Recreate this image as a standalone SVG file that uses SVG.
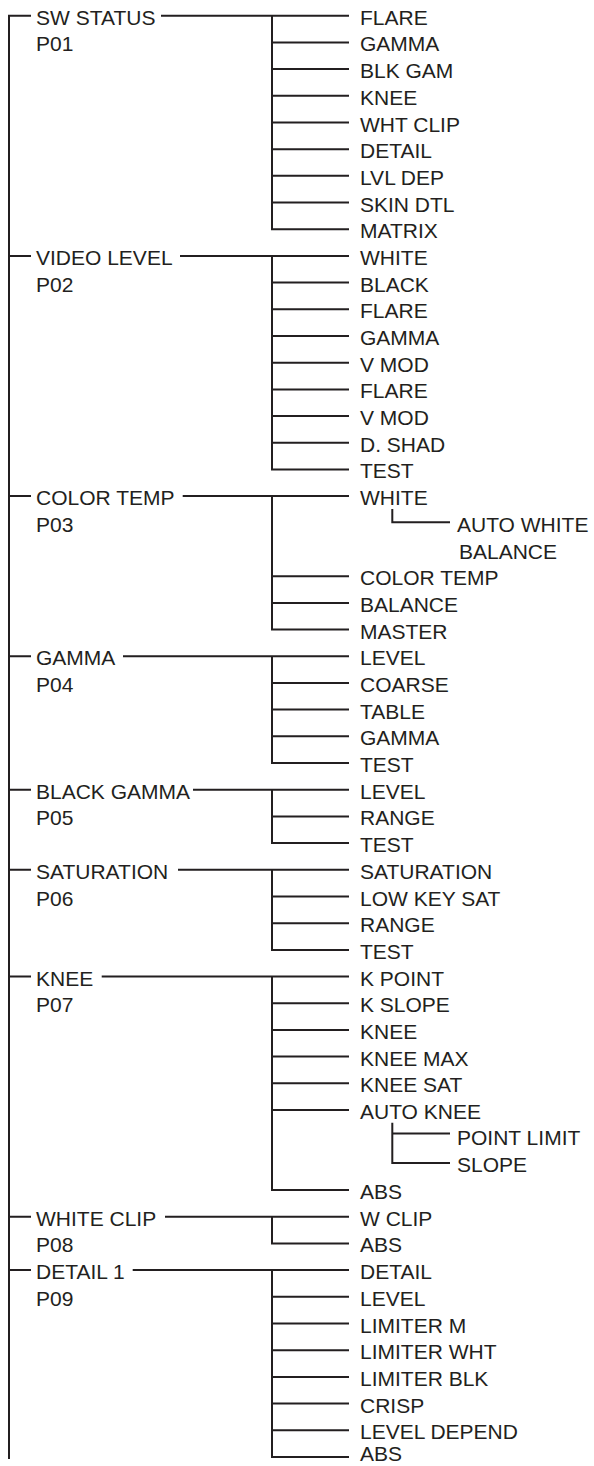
<svg xmlns="http://www.w3.org/2000/svg" width="594" height="1466" viewBox="0 0 594 1466">
<style>
text{font-family:"Liberation Sans",Arial,Helvetica,sans-serif;font-size:21px;fill:#231f20}
.c path{fill:none;stroke:#231f20;stroke-width:2}
</style>
<rect width="594" height="1466" fill="#fff"/>
<g class="c" id="connectors">
<path d="M31,15.7 H9 V1459"/>
<path d="M9,255.9 H31 M9,496.1 H31 M9,656.3 H31 M9,789.7 H31 M9,869.8 H31 M9,976.5 H31 M9,1216.8 H31 M9,1270.1 H31"/>
<!-- group 1 -->
<path d="M161,15.7 H349 M272,15.7 V229.2 H349 M272,42.4 H349 M272,69.1 H349 M272,95.8 H349 M272,122.5 H349 M272,149.2 H349 M272,175.8 H349 M272,202.5 H349"/>
<!-- group 2 -->
<path d="M180,255.9 H349 M272,255.9 V469.4 H349 M272,282.6 H349 M272,309.3 H349 M272,336 H349 M272,362.7 H349 M272,389.4 H349 M272,416.1 H349 M272,442.7 H349"/>
<!-- group 3 -->
<path d="M182.7,496.1 H349 M272,496.1 V629.6 H349 M272,576.2 H349 M272,602.9 H349"/>
<path d="M392.3,509 V522.3 H450"/>
<!-- group 4 -->
<path d="M123,656.3 H349 M272,656.3 V763 H349 M272,683 H349 M272,709.6 H349 M272,736.3 H349"/>
<!-- group 5 -->
<path d="M193,789.7 H349 M272,789.7 V843.1 H349 M272,816.4 H349"/>
<!-- group 6 -->
<path d="M178,869.8 H349 M272,869.8 V949.9 H349 M272,896.5 H349 M272,923.2 H349"/>
<!-- group 7 -->
<path d="M101.7,976.5 H349 M272,976.5 V1190.1 H349 M272,1003.2 H349 M272,1029.9 H349 M272,1056.6 H349 M272,1083.3 H349 M272,1110 H349"/>
<path d="M392.3,1122.7 V1163 H450 M392.3,1133.5 H450"/>
<!-- group 8 -->
<path d="M165,1216.8 H349 M272,1216.8 V1243.4 H349"/>
<!-- group 9 -->
<path d="M132.7,1270.1 H349 M272,1270.1 V1457 H349 M272,1296.8 H349 M272,1323.5 H349 M272,1350.2 H349 M272,1376.9 H349 M272,1403.6 H349 M272,1430.3 H349"/>
</g>
<g id="p01"><text x="36" y="24.7">SW STATUS</text><text x="36" y="51.4">P01</text></g>
<g id="p01-children">
<text x="360" y="24.7">FLARE</text>
<text x="360" y="51.4">GAMMA</text>
<text x="360" y="78.1">BLK GAM</text>
<text x="360" y="104.8">KNEE</text>
<text x="360" y="131.5">WHT CLIP</text>
<text x="360" y="158.2">DETAIL</text>
<text x="360" y="184.8">LVL DEP</text>
<text x="360" y="211.5">SKIN DTL</text>
<text x="360" y="238.2">MATRIX</text>
</g>
<g id="p02"><text x="36" y="264.9">VIDEO LEVEL</text><text x="36" y="291.6">P02</text></g>
<g id="p02-children">
<text x="360" y="264.9">WHITE</text>
<text x="360" y="291.6">BLACK</text>
<text x="360" y="318.3">FLARE</text>
<text x="360" y="345">GAMMA</text>
<text x="360" y="371.7">V MOD</text>
<text x="360" y="398.4">FLARE</text>
<text x="360" y="425.1">V MOD</text>
<text x="360" y="451.7">D. SHAD</text>
<text x="360" y="478.4">TEST</text>
</g>
<g id="p03"><text x="36" y="505.1">COLOR TEMP</text><text x="36" y="531.8">P03</text></g>
<g id="p03-children">
<text x="360" y="505.1">WHITE</text>
<text x="457" y="531.8">AUTO WHITE</text>
<text x="459" y="558.5">BALANCE</text>
<text x="360" y="585.2">COLOR TEMP</text>
<text x="360" y="611.9">BALANCE</text>
<text x="360" y="638.6">MASTER</text>
</g>
<g id="p04"><text x="36" y="665.3">GAMMA</text><text x="36" y="692">P04</text></g>
<g id="p04-children">
<text x="360" y="665.3">LEVEL</text>
<text x="360" y="692">COARSE</text>
<text x="360" y="718.6">TABLE</text>
<text x="360" y="745.3">GAMMA</text>
<text x="360" y="772">TEST</text>
</g>
<g id="p05"><text x="36" y="798.7">BLACK GAMMA</text><text x="36" y="825.4">P05</text></g>
<g id="p05-children">
<text x="360" y="798.7">LEVEL</text>
<text x="360" y="825.4">RANGE</text>
<text x="360" y="852.1">TEST</text>
</g>
<g id="p06"><text x="36" y="878.8">SATURATION</text><text x="36" y="905.5">P06</text></g>
<g id="p06-children">
<text x="360" y="878.8">SATURATION</text>
<text x="360" y="905.5">LOW KEY SAT</text>
<text x="360" y="932.2">RANGE</text>
<text x="360" y="958.9">TEST</text>
</g>
<g id="p07"><text x="36" y="985.5">KNEE</text><text x="36" y="1012.2">P07</text></g>
<g id="p07-children">
<text x="360" y="985.5">K POINT</text>
<text x="360" y="1012.2">K SLOPE</text>
<text x="360" y="1038.9">KNEE</text>
<text x="360" y="1065.6">KNEE MAX</text>
<text x="360" y="1092.3">KNEE SAT</text>
<text x="360" y="1119">AUTO KNEE</text>
<text x="457" y="1145">POINT LIMIT</text>
<text x="457" y="1172">SLOPE</text>
<text x="360" y="1199.1">ABS</text>
</g>
<g id="p08"><text x="36" y="1225.8">WHITE CLIP</text><text x="36" y="1252.4">P08</text></g>
<g id="p08-children">
<text x="360" y="1225.8">W CLIP</text>
<text x="360" y="1252.4">ABS</text>
</g>
<g id="p09"><text x="36" y="1279.1">DETAIL 1</text><text x="36" y="1305.8">P09</text></g>
<g id="p09-children">
<text x="360" y="1279.1">DETAIL</text>
<text x="360" y="1305.8">LEVEL</text>
<text x="360" y="1332.5">LIMITER M</text>
<text x="360" y="1359.2">LIMITER WHT</text>
<text x="360" y="1385.9">LIMITER BLK</text>
<text x="360" y="1412.6">CRISP</text>
<text x="360" y="1439.3">LEVEL DEPEND</text>
<text x="360" y="1461.3">ABS</text>
</g>
</svg>
